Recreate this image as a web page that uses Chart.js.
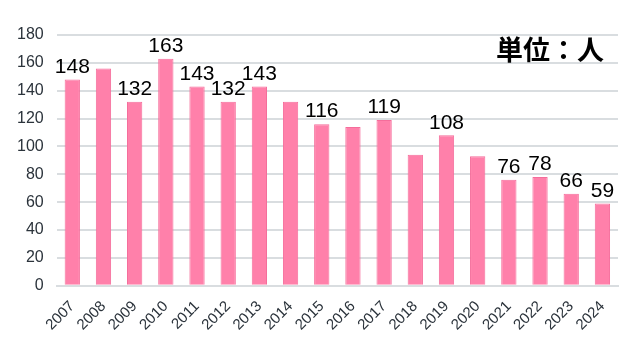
<!DOCTYPE html>
<html>
<head>
<meta charset="utf-8">
<script src="https://cdn.jsdelivr.net/npm/chart.js@4"></script>
<style>
  html, body { margin: 0; padding: 0; background: #fff; }
  #wrap { width: 640px; height: 352px; }
</style>
</head>
<body>
<div id="wrap"><canvas id="chart"></canvas></div>
<script>
const years = ['2007', '2008', '2009', '2010', '2011', '2012', '2013', '2014', '2015',
  '2016', '2017', '2018', '2019', '2020', '2021', '2022', '2023', '2024'];
const counts = [148, 156, 132, 163, 143, 132, 143, 132, 116, 114, 119, 94, 108, 93, 76, 78, 66, 59];
// which bars carry a number above them in the original
const labelled = [true, false, true, true, true, true, true, false, true,
  false, true, false, true, false, true, true, true, true];
const unitText = '単位：人';

const valueLabels = {
  id: 'valueLabels',
  afterDatasetsDraw: function(chart) {
    const ctx = chart.ctx;
    const meta = chart.getDatasetMeta(0);
    ctx.save();
    ctx.font = '21px "Liberation Sans", Arial, sans-serif';
    ctx.fillStyle = '#000';
    ctx.textAlign = 'center';
    ctx.textBaseline = 'bottom';
    meta.data.forEach(function(bar, i) {
      if (labelled[i]) {
        ctx.fillText(String(counts[i]), bar.x, bar.y - 2);
      }
    });
    // unit note in the top right corner
    ctx.font = 'bold 27px "Noto Sans CJK JP", sans-serif';
    ctx.textAlign = 'right';
    ctx.textBaseline = 'middle';
    ctx.fillText(unitText, 604, 50);
    ctx.restore();
  }
};

const ctx = document.getElementById('chart').getContext('2d');
new Chart(ctx, {
  type: 'bar',
  data: {
    labels: years,
    datasets: [{
      data: counts,
      backgroundColor: '#ff80aa',
      borderColor: '#f56d9b',
      borderWidth: 1,
      categoryPercentage: 1,
      barPercentage: 0.49,
    }],
  },
  options: {
    responsive: true,
    maintainAspectRatio: false,
    animation: false,
    layout: { padding: { top: 35, right: 22, left: 4, bottom: 14 } },
    plugins: {
      legend: { display: false },
      tooltip: { enabled: false },
    },
    scales: {
      x: {
        grid: { display: false },
        border: { color: '#d9dde0', width: 2 },
        ticks: {
          color: '#2b333b',
          font: { family: '"Liberation Sans", Arial, sans-serif', size: 15 },
          maxRotation: 45,
          minRotation: 45,
          autoSkip: false,
          padding: 4,
        },
      },
      y: {
        min: 0,
        max: 180,
        border: { display: false },
        grid: { color: '#d9dde0', lineWidth: 2, drawTicks: false },
        ticks: {
          stepSize: 20,
          color: '#2b333b',
          font: { family: '"Liberation Sans", Arial, sans-serif', size: 16 },
          padding: 13,
        },
      },
    },
  },
  plugins: [valueLabels],
});
</script>
</body>
</html>
